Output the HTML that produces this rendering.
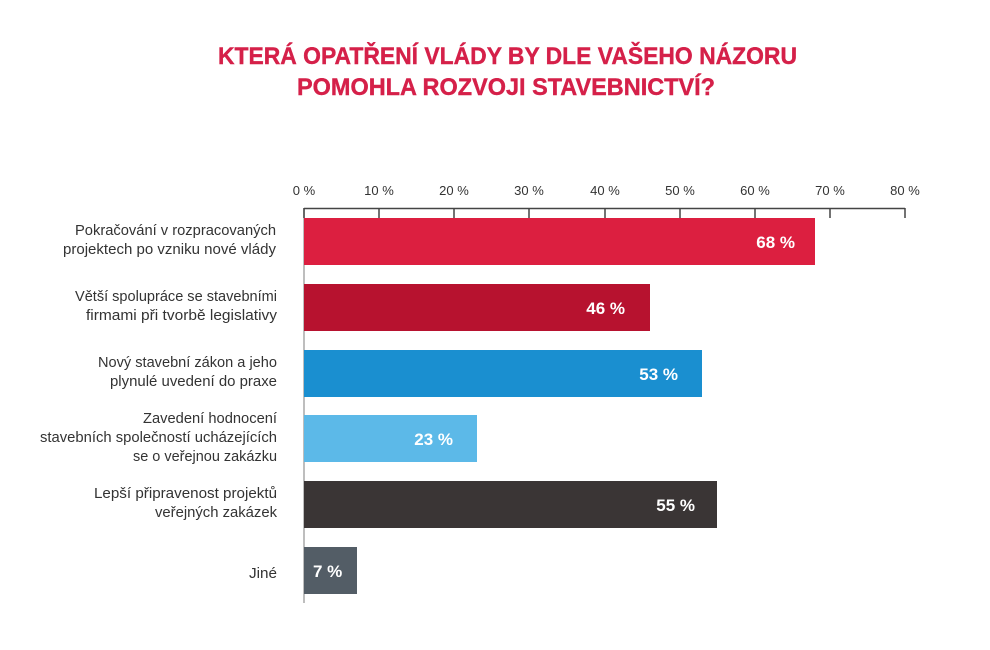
<!DOCTYPE html>
<html>
<head>
<meta charset="utf-8">
<style>
  html,body{margin:0;padding:0;background:#fff;}
  svg{display:block;}
  .t{font-family:"Liberation Sans",sans-serif;font-weight:bold;fill:#d52049;font-size:24px;stroke:#d52049;stroke-width:0.4px;}
  .tick{font-family:"Liberation Sans",sans-serif;font-size:13px;fill:#333;}
  .lab{font-family:"Liberation Sans",sans-serif;font-size:15px;fill:#333;}
  .val{font-family:"Liberation Sans",sans-serif;font-weight:bold;font-size:17px;fill:#fff;}
</style>
</head>
<body>
<svg width="990" height="650" viewBox="0 0 990 650" xmlns="http://www.w3.org/2000/svg">
  <rect width="990" height="650" fill="#fff"/>
  <!-- Title -->
  <text class="t" x="218" y="64" textLength="579" lengthAdjust="spacingAndGlyphs">KTERÁ OPATŘENÍ VLÁDY BY DLE VAŠEHO NÁZORU</text>
  <text class="t" x="297" y="95" textLength="418" lengthAdjust="spacingAndGlyphs">POMOHLA ROZVOJI STAVEBNICTVÍ?</text>

  <!-- tick labels -->
  <g class="tick" text-anchor="middle">
    <text x="304" y="195">0 %</text>
    <text x="379" y="195">10 %</text>
    <text x="454" y="195">20 %</text>
    <text x="529" y="195">30 %</text>
    <text x="605" y="195">40 %</text>
    <text x="680" y="195">50 %</text>
    <text x="755" y="195">60 %</text>
    <text x="830" y="195">70 %</text>
    <text x="905" y="195">80 %</text>
  </g>

  <!-- vertical axis -->
  <line x1="304" y1="208" x2="304" y2="603" stroke="#a8a8a8" stroke-width="1.5"/>

  <!-- bars -->
  <rect x="304" y="218" width="511" height="47" fill="#dc1f40"/>
  <rect x="304" y="284" width="346" height="47" fill="#b7122f"/>
  <rect x="304" y="350" width="398" height="47" fill="#1a8fd0"/>
  <rect x="304" y="415" width="173" height="47" fill="#5cb9e8"/>
  <rect x="304" y="481" width="413" height="47" fill="#3a3535"/>
  <rect x="304" y="547" width="53" height="47" fill="#535d66"/>

  <!-- axis top line + ticks -->
  <g stroke="#444" stroke-width="1.5" fill="none">
    <line x1="304" y1="208.5" x2="905" y2="208.5"/>
    <line x1="304" y1="208" x2="304" y2="218"/>
    <line x1="379" y1="208" x2="379" y2="218"/>
    <line x1="454" y1="208" x2="454" y2="218"/>
    <line x1="529" y1="208" x2="529" y2="218"/>
    <line x1="605" y1="208" x2="605" y2="218"/>
    <line x1="680" y1="208" x2="680" y2="218"/>
    <line x1="755" y1="208" x2="755" y2="218"/>
    <line x1="830" y1="208" x2="830" y2="218"/>
    <line x1="905" y1="208" x2="905" y2="218"/>
  </g>

  <!-- values -->
  <g class="val" text-anchor="end">
    <text x="795" y="248">68 %</text>
    <text x="625" y="314">46 %</text>
    <text x="678" y="380">53 %</text>
    <text x="453" y="445">23 %</text>
    <text x="695" y="511">55 %</text>
  </g>
  <text class="val" x="313" y="577">7 %</text>

  <!-- category labels -->
  <g class="lab" text-anchor="end">
    <text x="276" y="235" textLength="201" lengthAdjust="spacingAndGlyphs">Pokračování v rozpracovaných</text>
    <text x="276" y="254" textLength="213" lengthAdjust="spacingAndGlyphs">projektech po vzniku nové vlády</text>

    <text x="277" y="301" textLength="202" lengthAdjust="spacingAndGlyphs">Větší spolupráce se stavebními</text>
    <text x="277" y="320" textLength="191" lengthAdjust="spacingAndGlyphs">firmami při tvorbě legislativy</text>

    <text x="277" y="367" textLength="179" lengthAdjust="spacingAndGlyphs">Nový stavební zákon a jeho</text>
    <text x="277" y="386" textLength="167" lengthAdjust="spacingAndGlyphs">plynulé uvedení do praxe</text>

    <text x="277" y="423" textLength="134" lengthAdjust="spacingAndGlyphs">Zavedení hodnocení</text>
    <text x="277" y="442" textLength="237" lengthAdjust="spacingAndGlyphs">stavebních společností ucházejících</text>
    <text x="277" y="461" textLength="144" lengthAdjust="spacingAndGlyphs">se o veřejnou zakázku</text>

    <text x="277" y="498" textLength="183" lengthAdjust="spacingAndGlyphs">Lepší připravenost projektů</text>
    <text x="277" y="517" textLength="122" lengthAdjust="spacingAndGlyphs">veřejných zakázek</text>

    <text x="277" y="578" textLength="28" lengthAdjust="spacingAndGlyphs">Jiné</text>
  </g>
</svg>
</body>
</html>
